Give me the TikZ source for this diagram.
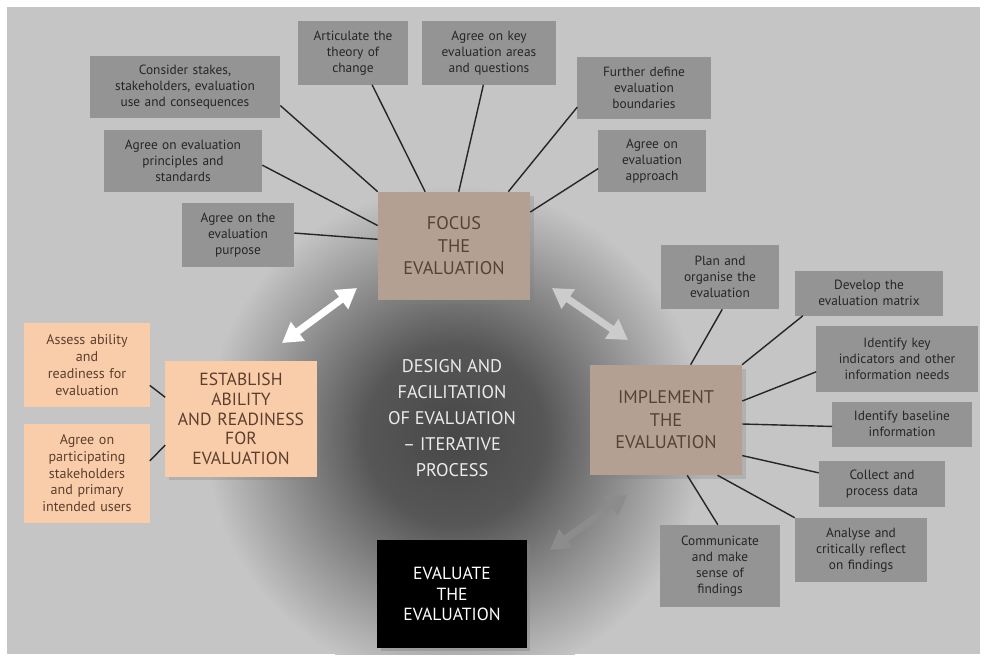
\documentclass[tikz,border=0pt]{standalone}
\usepackage{fontspec}
\setmainfont{PT Sans}
\usetikzlibrary{positioning,arrows.meta,shadows}

\definecolor{paper}{RGB}{197,197,197}
\definecolor{subgrey}{RGB}{148,148,148}
\definecolor{taupe}{RGB}{180,160,146}
\definecolor{taupetext}{RGB}{88,64,50}
\definecolor{peach}{RGB}{250,205,170}
\definecolor{peachtext}{RGB}{92,62,46}
\pgfdeclareradialshading{glow}{\pgfpoint{0bp}{0bp}}{color(0bp)=(black!72); color(9bp)=(black!66); color(25bp)=(paper); color(50bp)=(paper)}

\tikzset{
  wh/.style 2 args={text width=#1cm,minimum height=#2cm},
  sub/.style={fill=subgrey,inner sep=0pt,align=center,text=black!85,
              font=\fontsize{9.5}{11.5}\selectfont},
  stage/.style={fill=taupe,inner sep=0pt,align=center,text=taupetext,
              font=\fontsize{13}{16}\selectfont,drop shadow={opacity=.3}},
  ready/.style={fill=peach,inner sep=0pt,align=center,text=peachtext},
  link/.style={draw=black!85,line width=1pt},
  twoway/.style={line width=5pt,{Triangle[length=14pt,width=16pt]}-{Triangle[length=14pt,width=16pt]}}
}

\begin{document}
\begin{tikzpicture}[x=0.025cm,y=-0.025cm]
  \useasboundingbox (0,0) rectangle (985,659);
  \fill[white] (0,0) rectangle (985,659);
  \fill[paper] (7,7) rectangle (980,654);
  \begin{scope}
    \clip (7,7) rectangle (980,654);
    \shade[shading=glow] (455,435) circle (250);
  \end{scope}

  % focus
  \node[stage,wh={3.8}{2.7}]     (focus)      at (454,246) {FOCUS\\THE\\EVALUATION};
  \node[sub,wh={4.75}{1.55}]     (consider)   at (185,87)  {Consider stakes,\\stakeholders, evaluation\\use and consequences};
  \node[sub,wh={2.75}{1.575}]    (articulate) at (353,53)  {Articulate the\\theory of\\change};
  \node[sub,wh={3.325}{1.575}]   (keyareas)   at (489,53)  {Agree on key\\evaluation areas\\and questions};
  \node[sub,wh={3.325}{1.525}]   (further)    at (644,88)  {Further define\\evaluation\\boundaries};
  \node[sub,wh={2.675}{1.55}]    (approach)   at (652,161) {Agree on\\evaluation\\approach};
  \node[sub,wh={3.95}{1.55}]     (principles) at (183,161) {Agree on evaluation\\principles and\\standards};
  \node[sub,wh={2.8}{1.575}]     (purpose)    at (238,235) {Agree on the\\evaluation\\purpose};

  % implement
  \node[stage,wh={3.8}{2.75}]    (implement)  at (666,420) {IMPLEMENT\\THE\\EVALUATION};
  \node[sub,wh={2.95}{1.6}]      (plan)       at (720,277) {Plan and\\organise the\\evaluation};
  \node[sub,wh={3.7}{1.125}]     (matrix)     at (869,293) {Develop the\\evaluation matrix};
  \node[sub,wh={4.025}{1.625}]   (indicators) at (897,359) {Identify key\\indicators and other\\information needs};
  \node[sub,wh={3.475}{1.125}]   (baseline)   at (902,424) {Identify baseline\\information};
  \node[sub,wh={3.15}{1.15}]     (collect)    at (882,484) {Collect and\\process data};
  \node[sub,wh={3.3}{1.6}]       (analyse)    at (861,550) {Analyse and\\critically reflect\\on findings};
  \node[sub,wh={2.975}{2.05}]    (communicate) at (720,566) {Communicate\\and make\\sense of\\findings};

  % establish
  \node[ready,wh={3.775}{2.875},font=\fontsize{12.5}{14}\selectfont,drop shadow={opacity=.3}]
                                 (establish)  at (241,419) {ESTABLISH\\ABILITY\\AND READINESS\\FOR\\EVALUATION};
  \node[ready,wh={3.125}{2.1},font=\fontsize{10}{12}\selectfont]
                                 (assess)     at (87,365)  {Assess ability\\and\\readiness for\\evaluation};
  \node[ready,wh={3.125}{2.475},font=\fontsize{10}{12}\selectfont,below=0.4cm of assess]
                                 (users)      {Agree on\\participating\\stakeholders\\and primary\\intended users};

  % evaluate
  \node[fill=black,text=white,inner sep=0pt,align=center,wh={3.725}{2.675},
        font=\fontsize{12.5}{14.5}\selectfont,drop shadow={opacity=.4}]
                                 (evaluate)   at (452,594) {EVALUATE\\THE\\EVALUATION};

  \node[align=center,text=white!92!black,font=\fontsize{13}{18.5}\selectfont]
                                 (design)     at (452,418) {DESIGN AND\\FACILITATION\\OF EVALUATION\\-- ITERATIVE\\PROCESS};

  \path[link]
    (consider.-11)    edge (focus.north west)
    (articulate.-59)  edge (focus.118)
    (keyareas.-100)   edge (focus.85)
    (further.196)     edge (focus.45)
    (approach.188)    edge (focus.24)
    (principles.-3)   edge (focus.165)
    (purpose.2)       edge (focus.175);
  \path[link]
    (plan.-86)           edge (implement.66)
    (matrix.-161)        edge (implement.36)
    (indicators.189)     edge (implement.14)
    (baseline.182)       edge (implement.-3)
    (collect.170)        edge (implement.-25)
    (analyse.north west) edge (implement.-47)
    (communicate.93)     edge (implement.-69);
  \path[link]
    (assess.-18)      edge (establish.164)
    (users.11)        edge (establish.-161);

  % cycle arrows
  \coordinate (wa1) at (282,343); \coordinate (wa2) at (357,288);
  \coordinate (fa1) at (552,288); \coordinate (fa2) at (628,340);
  \coordinate (ga1) at (550,550); \coordinate (ga2) at (627,495);
  \draw[twoway,white]          (wa1) -- (wa2);
  \draw[twoway,white!80!black] (fa1) -- (fa2);
  \draw[twoway,black!45]       (ga1) -- (ga2);
\end{tikzpicture}
\end{document}
